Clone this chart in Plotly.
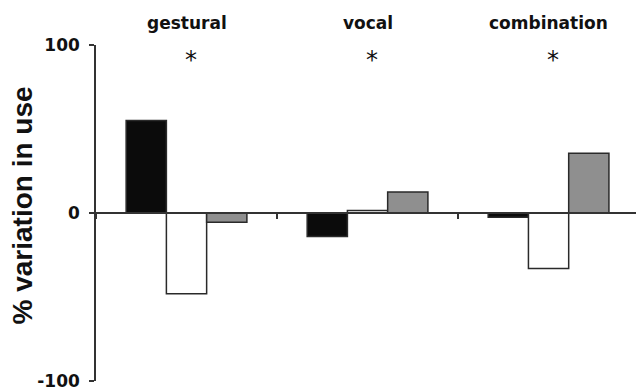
import plotly.graph_objects as go

# Communication categories and per-series percent change in use
categories = ["gestural", "vocal", "combination"]
series_names = ["Series A", "Series B", "Series C"]
series_a = [55, -14, -2.5]
series_b = [-48, 1.5, -33]
series_c = [-5.5, 12.5, 35.5]
significance = ["*", "*", "*"]

y_ticks = [-100, 0, 100]
y_title = "% variation in use"

fills = ["#0b0b0b", "#ffffff", "#8f8f8f"]
outline = "#2a2a2a"

fig = go.Figure()
for name, vals, col in zip(series_names, [series_a, series_b, series_c], fills):
    fig.add_trace(go.Bar(
        x=categories, y=vals, name=name,
        marker=dict(color=col, line=dict(color=outline, width=1.5)),
        showlegend=False,
    ))

# Category headings above the plot and significance stars below them
for cat, star in zip(categories, significance):
    fig.add_annotation(x=cat, y=1.066, xref="x", yref="paper", text=cat,
                       showarrow=False, yanchor="middle",
                       font=dict(family="DejaVu Sans", size=17, color="#111111", weight="bold"))
    fig.add_annotation(x=cat, y=0.955, xref="x", yref="paper", text=star,
                       showarrow=False, xshift=4, yanchor="middle",
                       font=dict(family="DejaVu Sans", size=24, color="#111111"))

# Rotated y-axis title
fig.add_annotation(x=-0.136, y=0.521, xref="paper", yref="paper", text=y_title,
                   textangle=-90, showarrow=False, xanchor="center", yanchor="middle",
                   font=dict(family="Liberation Sans", size=28, color="#111111", weight="bold"))

fig.update_layout(
    width=636, height=390,
    margin=dict(l=96, r=0, t=45, b=9),
    paper_bgcolor="white", plot_bgcolor="white",
    barmode="group", bargap=0.333, bargroupgap=0,
    xaxis=dict(
        type="category", range=[-0.5, 2.483],
        anchor="free", position=0.5,
        showline=True, linecolor="#333333", linewidth=1.5,
        ticks="outside", tickson="boundaries", ticklen=5, tickwidth=1.5,
        tickcolor="#333333", showticklabels=False, showgrid=False,
        zeroline=False,
    ),
    yaxis=dict(
        range=[-100, 100], tickvals=y_ticks, ticktext=[str(v) for v in y_ticks],
        showline=True, linecolor="#333333", linewidth=1.5,
        ticks="outside", ticklen=5, tickwidth=1.5, tickcolor="#333333",
        showgrid=False, zeroline=False, automargin=False,
        ticklabelstandoff=6, ticklabeloverflow="allow",
        tickfont=dict(family="DejaVu Sans", size=17, color="#111111", weight="bold"),
    ),
)

fig.write_html("out.html")
